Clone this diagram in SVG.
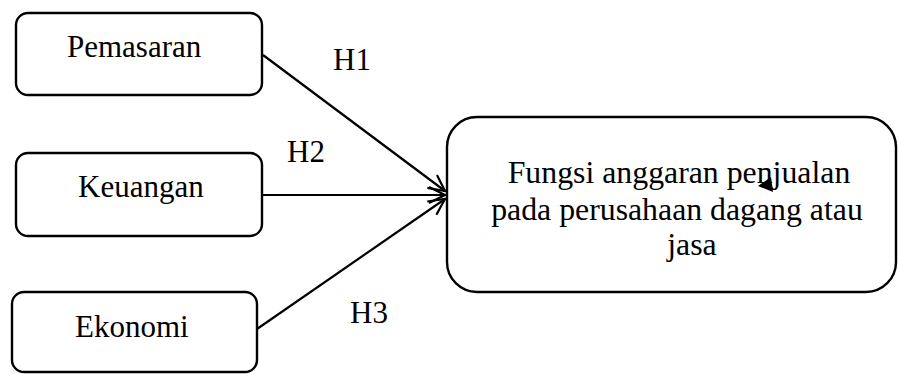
<svg xmlns="http://www.w3.org/2000/svg" width="898" height="374" viewBox="0 0 898 374">
<style>
.box{fill:#fff;stroke:#000;stroke-width:2.4}
.t{font-size:31px;fill:#000}
.b{font-size:31.8px}
.c{text-anchor:middle}
.line{stroke:#000;stroke-width:2.2;fill:none}
</style>
<defs>
<marker id="arr" markerUnits="userSpaceOnUse" markerWidth="24" markerHeight="24" viewBox="-20 -10 24 20" refX="0" refY="0" orient="auto">
<path d="M-16,-8 L0,0 L-16,8" fill="none" stroke="#000" stroke-width="2.2"/>
</marker>
</defs>
<rect width="898" height="374" fill="#fff"/>
<g font-family="Liberation Serif, Tinos, DejaVu Serif, serif">
<g id="connectors">
<line class="line" x1="263" y1="55" x2="445" y2="191" marker-end="url(#arr)"/>
<line class="line" x1="262" y1="195" x2="445" y2="195" marker-end="url(#arr)"/>
<line class="line" x1="257" y1="329" x2="445" y2="199" marker-end="url(#arr)"/>
<text class="t" x="333" y="70">H1</text>
<text class="t" x="287" y="162">H2</text>
<text class="t" x="350" y="323">H3</text>
</g>
<g id="pemasaran">
<rect class="box" x="16" y="13" width="246" height="82" rx="12"/>
<text class="t" x="67" y="57">Pemasaran</text>
</g>
<g id="keuangan">
<rect class="box" x="16" y="153" width="246" height="83" rx="12"/>
<text class="t" x="78" y="197">Keuangan</text>
</g>
<g id="ekonomi">
<rect class="box" x="12" y="292" width="245" height="80" rx="12"/>
<text class="t" x="75" y="337">Ekonomi</text>
</g>
<g id="fungsi">
<rect class="box" x="447" y="117" width="449" height="175" rx="30"/>
<text class="t b c" x="679" y="183">Fungsi anggaran penjualan</text>
<text class="t b c" x="677" y="220">pada perusahaan dagang atau</text>
<text class="t b c" x="692" y="255">jasa</text>
<polygon points="758,186 771,177 773,192" fill="#000"/>
</g>
</g>
</svg>
